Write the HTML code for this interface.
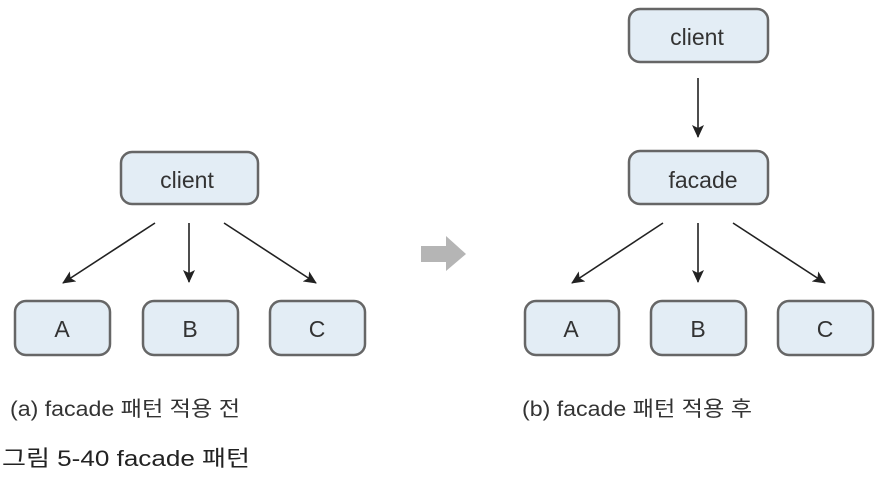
<!DOCTYPE html>
<html><head><meta charset="utf-8"><style>
html,body{margin:0;padding:0;background:#fff;}
svg text{font-family:"Liberation Sans","Noto Sans CJK KR",sans-serif;}
</style></head><body>
<svg width="883" height="473" viewBox="0 0 883 473" xmlns="http://www.w3.org/2000/svg">
<defs><marker id="ah" markerWidth="14" markerHeight="12" refX="12" refY="6" orient="auto" markerUnits="userSpaceOnUse"><path d="M0,0 L13,6 L0,12 L3,6 z" fill="#222"/></marker></defs>
<g fill="#e3edf5" stroke="#666" stroke-width="2.5">
<rect x="121" y="152" width="137" height="52" rx="11"/>
<rect x="15" y="301" width="95" height="54" rx="11"/>
<rect x="143" y="301" width="95" height="54" rx="11"/>
<rect x="270" y="301" width="95" height="54" rx="11"/>
<rect x="629" y="9" width="139" height="53" rx="11"/>
<rect x="629" y="151" width="139" height="53" rx="11"/>
<rect x="525" y="301" width="94" height="54" rx="11"/>
<rect x="651" y="301" width="95" height="54" rx="11"/>
<rect x="778" y="301" width="95" height="54" rx="11"/>
</g>
<g stroke="#222" stroke-width="1.6" marker-end="url(#ah)">
<line x1="155" y1="223" x2="63" y2="283"/>
<line x1="189" y1="223" x2="189" y2="282"/>
<line x1="224" y1="223" x2="316" y2="283"/>
<line x1="698" y1="78" x2="698" y2="137"/>
<line x1="663" y1="223" x2="572" y2="283"/>
<line x1="698" y1="223" x2="698" y2="282"/>
<line x1="733" y1="223" x2="825" y2="283"/>
</g>
<path d="M421,246 L446,246 L446,236 L466,254 L446,271 L446,262 L421,262 z" fill="#b5b5b5"/>
<g fill="#333" font-size="23" text-anchor="middle">
<text x="187" y="188">client</text>
<text x="62" y="337">A</text>
<text x="190" y="337">B</text>
<text x="317" y="337">C</text>
<text x="697" y="45">client</text>
<text x="703" y="188">facade</text>
<text x="571" y="337">A</text>
<text x="698" y="337">B</text>
<text x="825" y="337">C</text>
</g>
<g fill="#333" font-size="21">
<text x="10" y="416" textLength="230" lengthAdjust="spacingAndGlyphs">(a) facade 패턴 적용 전</text>
<text x="522" y="416" textLength="230" lengthAdjust="spacingAndGlyphs">(b) facade 패턴 적용 후</text>
</g>
<text x="2" y="466" font-size="22" fill="#222" textLength="248" lengthAdjust="spacingAndGlyphs">그림 5-40  facade 패턴</text>
</svg>
</body></html>
